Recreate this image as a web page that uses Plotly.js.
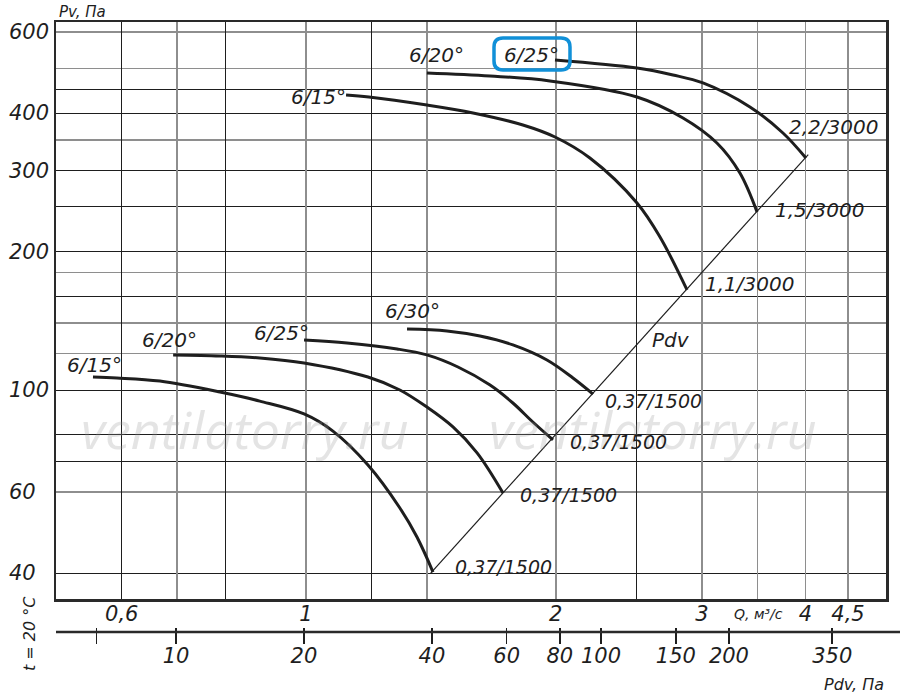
<!DOCTYPE html>
<html>
<head>
<meta charset="utf-8">
<script src="https://cdn.plot.ly/plotly-3.0.1.min.js"></script>
<style>html,body{margin:0;padding:0;background:#fff;}#chart{width:900px;height:694px;}</style>
</head>
<body>
<div id="chart"></div>
<script>
// ---- axis ticks and grid values ----
const qTicks = [0.6, 1, 2, 3, 4, 4.5];
const qTickText = ['0,6', '1', '2', '3', '4', '4,5'];
const qGridDark = [0.6, 0.8, 1.2, 2.5];
const qGridGray = [0.7, 1, 1.4, 2, 3, 3.5, 4, 4.5];
const pTicks = [40, 60, 100, 200, 300, 400, 600];
const pTickText = ['40', '60', '100', '200', '300', '400', '600'];
const pGridDark = [40, 70, 80, 100, 160, 200, 250, 300, 400, 450];
const pGridGray = [60, 120, 140, 180, 350, 500, 600];
const pdvTicks = [6.5, 10, 20, 40, 60, 80, 100, 150, 200, 350];
const pdvTickText = ['', '10', '20', '40', '60', '80', '100', '150', '200', '350'];

// ---- curves: Q (m3/s) and Pv (Pa) ----
const q15_1500 = [0.554, 0.592, 0.667, 0.788, 0.880, 0.995, 1.078, 1.188, 1.298, 1.361, 1.423];
const p15_1500 = [106.7, 106.2, 104.6, 99.0, 94.6, 88.7, 81.4, 68.7, 55.4, 47.9, 40.2];
const q20_1500 = [0.692, 0.788, 0.880, 0.995, 1.188, 1.298, 1.399, 1.504, 1.608, 1.728];
const p20_1500 = [119.2, 118.6, 117.4, 114.5, 106.7, 100.0, 91.8, 83.1, 73.0, 59.7];
const q25_1500 = [0.995, 1.121, 1.288, 1.399, 1.525, 1.667, 1.776, 1.877, 1.985];
const p25_1500 = [128.4, 126.5, 122.8, 119.2, 112.2, 102.5, 93.7, 85.2, 77.9];
const q30_1500 = [1.324, 1.479, 1.621, 1.776, 1.952, 2.098, 2.218];
const p30_1500 = [135.7, 134.4, 131.0, 125.3, 116.2, 106.2, 98.0];
const q15_3000 = [1.118, 1.191, 1.399, 1.590, 1.826, 1.996, 2.199, 2.506, 2.671, 2.879];
const p15_3000 = [437.8, 433.5, 416.4, 400.2, 376.8, 354.8, 319.4, 255.0, 215.1, 165.0];
const q20_3000 = [1.399, 1.667, 1.968, 2.506, 2.847, 3.128, 3.334, 3.496];
const p20_3000 = [488.9, 481.6, 469.7, 433.5, 390.3, 344.3, 296.2, 243.8];
const q25_3000 = [1.996, 2.506, 2.769, 3.009, 3.428, 3.757, 4.004];
const p25_3000 = [521.8, 501.2, 484.0, 465.0, 412.3, 362.0, 319.4];
// dynamic pressure line
const pdvQ = [1.414, 4.03];
const pdvP = [40, 325];

// ---- geometry helpers (pixel -> paper) ----
const W = 900, H = 694;
const M = {l: 8, r: 14, t: 22, b: 34};
const PW = W - M.l - M.r, PH = H - M.t - M.b;
function px(X) { return (X - M.l) / PW; }
function py(Y) { return (H - M.b - Y) / PH; }
const xDom = [px(56), 1];
const yDom = [py(599), 1];
const qRange = [Math.log10(0.5), Math.log10(5)];
const pRange = [2 - (599 - 390) / 460, 2 + (390 - 22) / 460];
const pdvRange = [1 - 120 / 425, 1 + 710 / 425];

const FONT = 'DejaVu Sans';
const INK = '#1e1e1e';

function curve(x, y) {
  return {type: 'scatter', mode: 'lines', x: x, y: y, xaxis: 'x', yaxis: 'y',
    line: {color: INK, width: 3, shape: 'spline', smoothing: 1}, hoverinfo: 'skip'};
}
// empty carriers so that the overlay axes (grid, labels, Pdv scale) are drawn
function carrier(xa, ya) {
  return {type: 'scatter', mode: 'lines', x: [], y: [], xaxis: xa, yaxis: ya, hoverinfo: 'skip', showlegend: false};
}
const data = [
  carrier('x3', 'y'), carrier('x4', 'y'), carrier('x', 'y3'), carrier('x', 'y4'),
  carrier('x2', 'y'), carrier('x', 'y2'),
  curve(q15_1500, p15_1500), curve(q20_1500, p20_1500),
  curve(q25_1500, p25_1500), curve(q30_1500, p30_1500),
  curve(q15_3000, p15_3000), curve(q20_3000, p20_3000), curve(q25_3000, p25_3000),
  {type: 'scatter', mode: 'lines', x: pdvQ, y: pdvP, xaxis: 'x', yaxis: 'y',
    line: {color: INK, width: 1.2}, hoverinfo: 'skip'}
];

function ann(text, X, Y, o) {
  o = o || {};
  return Object.assign({text: text, xref: 'paper', yref: 'paper', x: px(X), y: py(Y),
    xanchor: 'center', yanchor: 'middle', showarrow: false, borderpad: 0,
    font: {family: FONT, style: 'italic', size: 20, color: INK}}, o);
}
const wmFont = {family: 'Open Sans', style: 'italic', size: 52, color: 'rgba(150,150,150,0.26)'};
const smallLbl = {family: FONT, style: 'italic', size: 19, color: INK};
const annotations = [
  ann('ventilatorry.ru', 245, 428, {font: wmFont}),
  ann('ventilatorry.ru', 653, 428, {font: wmFont}),
  ann('6/15°', 318, 97), ann('6/20°', 436, 55), ann('6/25°', 531, 55),
  ann('2,2/3000', 833, 127), ann('1,5/3000', 819, 210), ann('1,1/3000', 749, 284),
  ann('Pdv', 671, 340),
  ann('6/15°', 94, 365), ann('6/20°', 169, 340), ann('6/25°', 281, 333), ann('6/30°', 412, 311),
  ann('0,37/1500', 653, 401, {font: smallLbl}), ann('0,37/1500', 618, 442, {font: smallLbl}),
  ann('0,37/1500', 568, 495, {font: smallLbl}), ann('0,37/1500', 503, 567, {font: smallLbl}),
  ann('Pv, Па', 58, 12, {xanchor: 'left', font: {family: FONT, style: 'italic', size: 15, color: INK}}),
  ann('Q, м³/с', 758, 614, {font: {family: FONT, style: 'italic', size: 14, color: INK}}),
  ann('Pdv, Па', 885, 684, {xanchor: 'right', font: {family: FONT, style: 'italic', size: 16, color: INK}}),
  ann('t = 20 °C', 29, 634, {textangle: -90, font: {family: FONT, style: 'italic', size: 16, color: INK}})
];

// rounded highlight box around upper 6/25°
function roundRect(X0, Y0, X1, Y1, r) {
  const pts = [
    ['M', X0 + r, Y0], ['L', X1 - r, Y0], ['Q', X1, Y0, X1, Y0 + r],
    ['L', X1, Y1 - r], ['Q', X1, Y1, X1 - r, Y1], ['L', X0 + r, Y1],
    ['Q', X0, Y1, X0, Y1 - r], ['L', X0, Y0 + r], ['Q', X0, Y0, X0 + r, Y0]
  ];
  return pts.map(function (p) {
    let s = p[0];
    for (let i = 1; i < p.length; i += 2) s += ' ' + px(p[i]).toFixed(5) + ',' + py(p[i + 1]).toFixed(5);
    return s;
  }).join(' ') + ' Z';
}
const shapes = [
  {type: 'path', xref: 'paper', yref: 'paper', path: roundRect(494, 38, 570, 70, 9),
    line: {color: '#1190d8', width: 3.5}, fillcolor: 'rgba(0,0,0,0)', layer: 'above'},
  {type: 'line', xref: 'paper', yref: 'paper', x0: px(56), x1: px(900), y0: py(632), y1: py(632),
    line: {color: '#2a2a2a', width: 2.5}}
];

const gridAx = function (vals, color, width) {
  return {type: 'log', overlaying: 'x', anchor: 'y', range: qRange, tickvals: vals,
    showticklabels: false, ticks: '', showgrid: true, gridcolor: color, gridwidth: width,
    showline: false, zeroline: false};
};
const gridAy = function (vals, color, width) {
  return {type: 'log', overlaying: 'y', anchor: 'x', range: pRange, tickvals: vals,
    showticklabels: false, ticks: '', showgrid: true, gridcolor: color, gridwidth: width,
    showline: false, zeroline: false};
};
const tickFont = {family: FONT, style: 'italic', size: 21, color: INK};

const layout = {
  width: W, height: H, margin: {l: M.l, r: M.r, t: M.t, b: M.b, pad: 0},
  paper_bgcolor: '#fff', plot_bgcolor: '#fff', showlegend: false,
  font: {family: FONT, color: INK},
  xaxis: {type: 'log', domain: xDom, range: qRange, anchor: 'y', tickvals: qTicks, ticktext: qTickText,
    tickfont: tickFont, ticks: '', showgrid: false, zeroline: false,
    showline: true, mirror: true, linecolor: '#2a2a2a', linewidth: 2.5, ticklabelstandoff: -6},
  xaxis2: {type: 'log', overlaying: 'x', anchor: 'free', position: py(627), side: 'bottom',
    range: pdvRange, tickvals: pdvTicks, ticktext: pdvTickText, tickfont: tickFont,
    ticks: 'outside', ticklen: 16, tickwidth: 1.5, tickcolor: INK, ticklabelstandoff: -6,
    showgrid: false, showline: false, zeroline: false},
  xaxis3: gridAx(qGridDark, '#1e1e1e', 1),
  xaxis4: gridAx(qGridGray, '#8e8e8e', 1.6),
  yaxis: {type: 'log', domain: yDom, range: pRange, anchor: 'x', showticklabels: false, ticks: '',
    showgrid: false, zeroline: false, showline: true, mirror: true, linecolor: '#2a2a2a', linewidth: 2.5},
  yaxis2: {type: 'log', overlaying: 'y', anchor: 'free', position: 0, side: 'right', range: pRange,
    tickvals: pTicks, ticktext: pTickText, tickfont: tickFont, ticks: '',
    showgrid: false, showline: false, zeroline: false},
  yaxis3: gridAy(pGridDark, '#1e1e1e', 1),
  yaxis4: gridAy(pGridGray, '#8e8e8e', 1.6),
  annotations: annotations,
  shapes: shapes
};

Plotly.newPlot('chart', data, layout, {staticPlot: true, displayModeBar: false});
</script>
</body>
</html>
